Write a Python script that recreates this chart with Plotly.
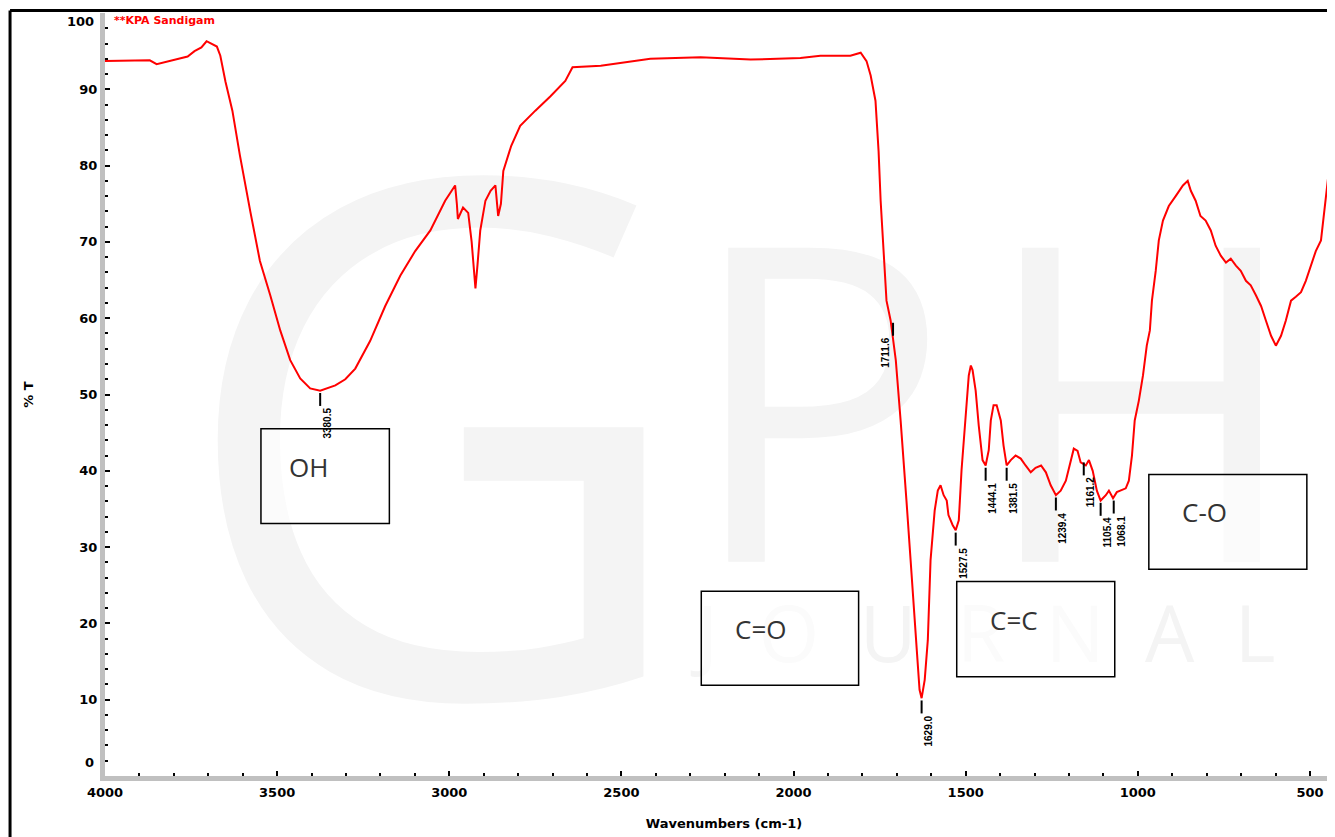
import plotly.graph_objects as go

wavenumber = [4000, 3870, 3850, 3820, 3790, 3760, 3740, 3720, 3705, 3690, 3675, 3665, 3650, 3630, 3608,
              3578, 3550, 3520, 3491, 3462, 3433, 3404, 3375, 3331, 3302, 3273, 3230, 3186, 3142, 3099,
              3055, 3012, 2983, 2978, 2975, 2960, 2945, 2935, 2928, 2924, 2918, 2910, 2895, 2880, 2866,
              2858, 2850, 2843, 2820, 2794, 2750, 2706, 2663, 2642, 2560, 2416, 2270, 2125, 1980, 1922,
              1835, 1805, 1788, 1776, 1762, 1753, 1747, 1738, 1730, 1718, 1703, 1689, 1680, 1672, 1660,
              1651, 1642, 1634, 1628, 1619, 1610, 1602, 1590, 1581, 1573, 1564, 1555, 1550, 1538, 1529,
              1520, 1512, 1503, 1491, 1485, 1480, 1471, 1462, 1451, 1442, 1433, 1427, 1419, 1410, 1398,
              1390, 1381, 1369, 1355, 1340, 1326, 1311, 1297, 1281, 1267, 1253, 1238, 1224, 1209, 1195,
              1186, 1175, 1166, 1151, 1142, 1131, 1119, 1108, 1093, 1084, 1072, 1061, 1049, 1035, 1026,
              1017, 1009, 997, 985, 974, 965, 959, 948, 939, 927, 910, 890, 869, 855, 846,
              832, 818, 803, 788, 774, 759, 744, 730, 715, 701, 686, 672, 657, 642, 628,
              613, 599, 584, 570, 555, 541, 526, 512, 497, 483, 468, 454, 445, 433, 425]
transmittance = [93.7, 93.8, 93.3, 93.6, 94.0, 94.3, 95.0, 95.5, 96.3, 96.0, 95.6, 94.4, 91.0, 87.2, 81.3,
                 74.0, 67.5, 63.0, 58.4, 54.5, 52.1, 50.8, 50.5, 51.2, 52.0, 53.4, 57.0, 61.6, 65.6, 68.8,
                 71.5, 75.4, 77.4, 75.0, 73.0, 74.5, 73.8, 70.0, 66.0, 63.9, 67.0, 71.5, 75.4, 76.7, 77.4,
                 73.4, 75.0, 79.3, 82.6, 85.2, 87.2, 89.1, 91.1, 92.9, 93.1, 94.0, 94.2, 93.9, 94.1, 94.4,
                 94.4, 94.8, 93.7, 91.8, 88.5, 81.9, 75.4, 67.5, 62.3, 59.7, 54.5, 46.6, 41.4, 36.1, 28.3,
                 23.0, 16.5, 11.3, 10.2, 12.6, 17.8, 28.3, 34.8, 37.4, 38.1, 36.8, 36.1, 34.2, 32.9, 32.2,
                 33.5, 40.1, 45.3, 52.5, 53.8, 53.2, 50.5, 45.9, 41.4, 40.7, 42.7, 46.6, 48.6, 48.6, 46.6,
                 43.3, 40.7, 41.4, 42.0, 41.6, 40.7, 39.8, 40.4, 40.7, 39.8, 38.1, 36.8, 37.4, 38.7, 41.4,
                 42.9, 42.6, 41.1, 40.7, 41.4, 40.0, 37.4, 36.1, 36.8, 37.4, 36.4, 37.2, 37.4, 37.7, 38.7,
                 42.0, 46.6, 49.2, 52.5, 56.4, 58.4, 62.3, 66.2, 70.2, 72.8, 74.7, 76.0, 77.4, 78.0, 76.7,
                 75.4, 73.4, 72.8, 71.5, 69.5, 68.2, 67.3, 67.8, 66.9, 66.2, 64.9, 64.3, 63.0, 61.6, 59.7,
                 57.7, 56.4, 57.7, 59.7, 62.3, 62.8, 63.4, 64.9, 66.9, 68.8, 70.2, 75.4, 79.3, 84.6, 86.5]

peak_wn = [3375, 1711, 1628, 1529, 1442, 1381, 1238, 1157, 1108, 1070]
peak_t = [50.5, 59.7, 10.2, 32.2, 40.7, 40.7, 36.8, 41.4, 36.1, 36.4]
peak_labels = ["3380.5", "1711.6", "1629.0", "1527.5", "1444.1", "1381.5", "1239.4", "1161.2", "1105.4", "1068.1"]
peak_side = [1, -1, 1, 1, 1, 1, 1, 1, 1, 1]

group_names = ["OH", "C=O", "C=C", "C-O"]
group_x0 = [3547, 2268, 1526, 968]
group_x1 = [3174, 1811, 1067, 509]
group_y0 = [33.1, 11.9, 13.0, 27.1]
group_y1 = [45.5, 24.2, 25.5, 39.5]

watermark_text = ["G", "P", "H", "J  O  U  R  N  A  L"]
watermark_wn = [3040, 1930, 990, 1440]
watermark_t = [34, 42.5, 42.5, 17.5]
watermark_size = [720, 440, 440, 78]

x_ticks = [4000, 3500, 3000, 2500, 2000, 1500, 1000, 500]
y_ticks = [0, 10, 20, 30, 40, 50, 60, 70, 80, 90, 100]
edge_y_ticks = [0, 100]

fig = go.Figure()
# faint watermark behind the spectrum
for txt, w, t, sz in zip(watermark_text, watermark_wn, watermark_t, watermark_size):
    fig.add_trace(go.Scatter(x=[w], y=[t], mode="text", text=[txt], textposition="middle center",
                             textfont=dict(size=sz, color="#f4f4f4", family="Open Sans"),
                             showlegend=False, hoverinfo="skip"))

fig.add_trace(go.Scatter(x=wavenumber, y=transmittance, mode="lines",
                         line=dict(color="#ff0000", width=2), showlegend=False))

ann = []
shapes = []

# peak labels
for w, t, lab, side in zip(peak_wn, peak_t, peak_labels, peak_side):
    shapes.append(dict(type="line", xref="x", yref="y", x0=w, x1=w, y0=t - 0.3, y1=t - 2.0,
                       line=dict(color="black", width=2)))
    ann.append(dict(text=lab, x=w, y=t - 2.0, xref="x", yref="y", showarrow=False, textangle=-90,
                    xanchor="center", yanchor="top", xshift=7 * side,
                    font=dict(size=10, color="black", family="Liberation Sans", weight="bold")))

# group boxes
for name, x0, x1, y0, y1 in zip(group_names, group_x0, group_x1, group_y0, group_y1):
    shapes.append(dict(type="rect", xref="x", yref="y", x0=x0, x1=x1, y0=y0, y1=y1,
                       line=dict(color="black", width=1.5), fillcolor="rgba(255,255,255,0.6)", layer="above"))
    ann.append(dict(text=name, x=x0 - (x0 - x1) * 0.2, y=y1 - (y1 - y0) * 0.4, xref="x", yref="y",
                    showarrow=False, xanchor="left", yanchor="middle",
                    font=dict(size=26, color="#333333", family="Open Sans")))

# outer frame
shapes.append(dict(type="line", xref="paper", yref="paper", x0=-0.0767, x1=-0.0767, y0=-0.1, y1=1.0034,
                   line=dict(color="black", width=3)))
shapes.append(dict(type="line", xref="paper", yref="paper", x0=-0.0767, x1=1.01, y0=1.0034, y1=1.0034,
                   line=dict(color="black", width=3)))

tick_font = dict(size=13, family="DejaVu Sans", color="black", weight="bold")
title_font = dict(size=13, family="DejaVu Sans", color="black", weight="bold")

# end tick labels nudged inside the axis, as in the original
for v in edge_y_ticks:
    ann.append(dict(text=str(v), x=0, y=v, xref="paper", yref="y", showarrow=False,
                    xanchor="right", yanchor="middle", xshift=-9, yshift=(14 if v == 0 else -8),
                    font=tick_font))

ann.append(dict(text="**KPA Sandigam", x=0.006, y=0.99, xref="paper", yref="paper", showarrow=False,
                xanchor="left", yanchor="middle",
                font=dict(size=11, color="#ff0000", family="DejaVu Sans", weight="bold")))

fig.update_layout(
    width=1335, height=837,
    margin=dict(l=97, r=0, t=5, b=69, autoexpand=False),
    paper_bgcolor="white", plot_bgcolor="white",
    annotations=ann, shapes=shapes,
    xaxis=dict(range=[4000, 404], tickvals=x_ticks, ticktext=[str(v) for v in x_ticks],
               automargin=False,
               showgrid=False, zeroline=False, showline=True, linecolor="#c0c0c0", linewidth=5,
               ticks="inside", ticklen=5, tickwidth=2, tickcolor="black",
               minor=dict(dtick=100, ticks="inside", ticklen=3, tickwidth=2, tickcolor="black"),
               tickfont=tick_font,
               title=dict(text="Wavenumbers (cm-1)", standoff=22, font=title_font)),
    yaxis=dict(range=[0, 100], tickvals=y_ticks,
               ticktext=["" if v in edge_y_ticks else str(v) for v in y_ticks],
               automargin=False,
               showgrid=False, zeroline=False, showline=True, linecolor="#c0c0c0", linewidth=5,
               ticks="inside", ticklen=5, tickwidth=2, tickcolor="black",
               minor=dict(dtick=2, ticks="inside", ticklen=3, tickwidth=2, tickcolor="black"),
               tickfont=tick_font,
               title=dict(text="% T", standoff=44, font=title_font)),
)

fig.write_html("out.html")
